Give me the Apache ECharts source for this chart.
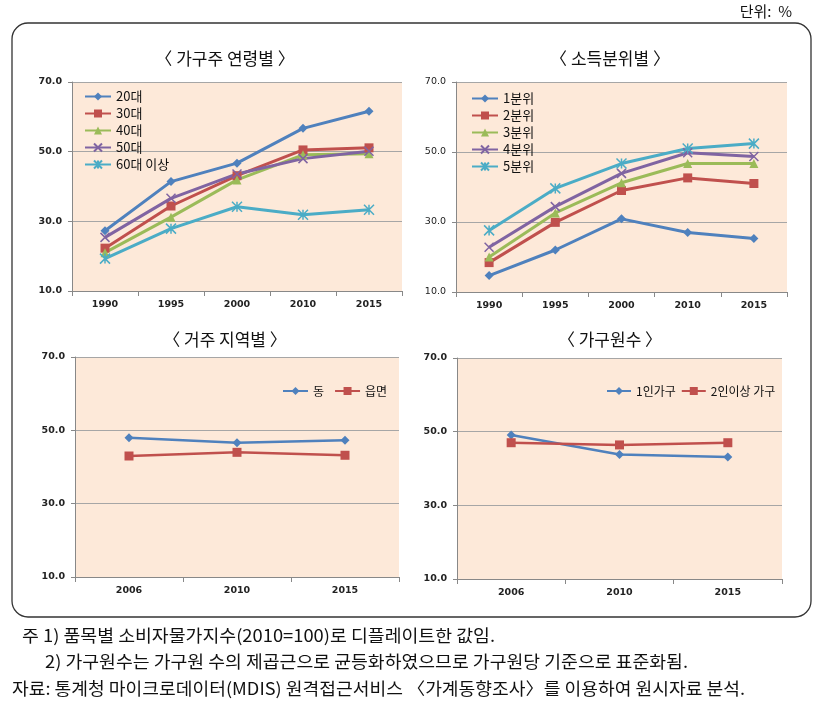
<!DOCTYPE html>
<html><head><meta charset="utf-8">
<script src="https://cdn.jsdelivr.net/npm/echarts@6/dist/echarts.min.js"></script>
<style>html,body{margin:0;padding:0;background:#fff}#c{width:821px;height:707px}</style>
</head><body><div id="c"></div>
<script>
// ---- data ----
const yearsA = ['1990', '1995', '2000', '2010', '2015'];
const yearsB = ['2006', '2010', '2015'];
const yTicks = [10, 30, 50, 70];

const age20 = [27.3, 41.4, 46.7, 56.7, 61.6];
const age30 = [22.3, 34.4, 43.1, 50.5, 51.1];
const age40 = [21.0, 31.2, 41.9, 49.1, 49.4];
const age50 = [25.4, 36.6, 43.6, 48.0, 50.1];
const age60 = [19.3, 27.9, 34.2, 31.9, 33.3];

const q1 = [14.7, 22.0, 30.9, 27.0, 25.3];
const q2 = [18.4, 29.9, 39.0, 42.6, 41.0];
const q3 = [20.0, 32.6, 41.2, 46.7, 46.7];
const q4 = [22.8, 34.4, 43.9, 49.8, 48.7];
const q5 = [27.6, 39.6, 46.7, 51.0, 52.4];

const dong = [48.0, 46.6, 47.3];
const eupmyeon = [43.0, 44.0, 43.2];

const single = [49.1, 43.8, 43.1];
const multi = [47.0, 46.4, 47.0];

const titles = ['〈 가구주 연령별 〉', '〈 소득분위별 〉', '〈 거주 지역별 〉', '〈 가구원수 〉'];
const notes = [
  '주 1) 품목별 소비자물가지수(2010=100)로 디플레이트한 값임.',
  '2) 가구원수는 가구원 수의 제곱근으로 균등화하였으므로 가구원당 기준으로 표준화됨.',
  '자료: 통계청 마이크로데이터(MDIS) 원격접근서비스 〈가계동향조사〉를 이용하여 원시자료 분석.'
];

// ---- styling ----
const C = ['#4F81BD', '#C0504D', '#9BBB59', '#8064A2', '#4BACC6'];
const X_PATH = 'path://M0,0L10,10M10,0L0,10';
const AST_PATH = 'path://M0,0L10,10M10,0L0,10M5,0L5,10';
const symbols = [
  {symbol: 'diamond', size: 9},
  {symbol: 'rect', size: 9},
  {symbol: 'triangle', size: 9},
  {symbol: X_PATH, size: 9},
  {symbol: AST_PATH, size: 10}
];
const KFONT = '"Noto Sans CJK KR", "Noto Sans", sans-serif';

const grids = [
  {left: 72, top: 82, width: 330, height: 209},
  {left: 456, top: 82, width: 331, height: 210},
  {left: 75, top: 357, width: 324, height: 220},
  {left: 457, top: 358, width: 325, height: 221}
];

function mkSeries(name, data, idx, gi, lw) {
  const s = symbols[idx];
  const isPath = s.symbol.indexOf('path://') === 0;
  return {
    name, type: 'line', data, xAxisIndex: gi, yAxisIndex: gi,
    symbol: s.symbol, symbolSize: s.size, showAllSymbol: true,
    lineStyle: {color: C[idx], width: lw},
    itemStyle: isPath ? {color: 'none', borderColor: C[idx], borderWidth: 1.5} : {color: C[idx]},
    emphasis: {disabled: true},
    animation: false, z: 3
  };
}

const series = [];
const ageNames = ['20대', '30대', '40대', '50대', '60대 이상'];
[age20, age30, age40, age50, age60].forEach((d, i) => series.push(mkSeries(ageNames[i], d, i, 0, 3)));
const qNames = ['1분위', '2분위', '3분위', '4분위', '5분위'];
[q1, q2, q3, q4, q5].forEach((d, i) => series.push(mkSeries(qNames[i], d, i, 1, 3)));
series.push(mkSeries('동', dong, 0, 2, 2.5));
series.push(mkSeries('읍면', eupmyeon, 1, 2, 2.5));
series.push(mkSeries('1인가구', single, 0, 3, 2.5));
series.push(mkSeries('2인이상 가구', multi, 1, 3, 2.5));

const xAxes = grids.map((g, i) => ({
  type: 'category', gridIndex: i, data: i < 2 ? yearsA : yearsB, boundaryGap: true,
  axisLine: {lineStyle: {color: '#888', width: 1}},
  axisTick: {show: true, length: 5, lineStyle: {color: '#888'}},
  axisLabel: {margin: 9, color: '#222', fontFamily: 'DejaVu Sans', fontWeight: 'bold', fontSize: 9.5}
}));
const yAxes = grids.map((g, i) => ({
  type: 'value', gridIndex: i, min: yTicks[0], max: yTicks[yTicks.length - 1], interval: yTicks[1] - yTicks[0],
  axisLine: {show: true, lineStyle: {color: '#888', width: 1}},
  axisTick: {show: true, length: 4, lineStyle: {color: '#888'}},
  splitLine: {show: true, lineStyle: {color: '#A6A6A6', width: 1}},
  axisLabel: {margin: 10, color: '#222', fontFamily: 'DejaVu Sans', fontWeight: i === 1 ? 'normal' : 'bold', fontSize: 9.5,
    formatter: v => v.toFixed(1)}
}));

const titleCenters = [[220, 45], [605, 45], [220, 326], [605, 326]];
const title = titles.map((t, i) => ({
  text: t, left: titleCenters[i][0], top: titleCenters[i][1], textAlign: 'center',
  textStyle: {fontFamily: KFONT, fontSize: 17, fontWeight: 'normal', color: '#111'}
}));

const legendText = {fontFamily: KFONT, fontSize: 13, color: '#111'};
const legendTextS = {fontFamily: KFONT, fontSize: 12, color: '#111'};
const legend = [
  {data: ageNames, orient: 'vertical', left: 79, top: 85, itemGap: 4, itemWidth: 26, itemHeight: 10, textStyle: legendText, selectedMode: false},
  {data: qNames, orient: 'vertical', left: 466, top: 87, itemGap: 4, itemWidth: 26, itemHeight: 10, textStyle: legendText, selectedMode: false},
  {data: ['동', '읍면'], orient: 'horizontal', left: 277, top: 380, itemGap: 10, itemWidth: 25, itemHeight: 10, textStyle: legendTextS, selectedMode: false},
  {data: ['1인가구', '2인이상 가구'], orient: 'horizontal', left: 601, top: 380, itemGap: 5, itemWidth: 24, itemHeight: 10, textStyle: legendTextS, selectedMode: false}
];

// footnote fitting (style only)
const cv = document.createElement('canvas').getContext('2d');
function fitText(text, x, y, targetW, size) {
  const font = size + 'px ' + KFONT;
  cv.font = font;
  const w = cv.measureText(text).width;
  return {type: 'text', x, y, scaleX: targetW / w, scaleY: 1,
    style: {text, font, fill: '#111', textVerticalAlign: 'middle'}, z: 10};
}

const graphic = [
  {type: 'rect', shape: {x: 12, y: 23, width: 799, height: 594, r: 16},
   style: {fill: 'none', stroke: '#333', lineWidth: 1.3}, z: 0},
  {type: 'text', x: 792, y: 11, style: {text: '단위:  %', font: '15px ' + KFONT, fill: '#111', textAlign: 'right', textVerticalAlign: 'middle'}},
  fitText(notes[0], 22, 636, 473, 17),
  fitText(notes[1], 45, 662, 643, 17),
  fitText(notes[2], 12, 689, 733, 17)
];

const chart = echarts.init(document.getElementById('c'), null, {renderer: 'canvas'});
chart.setOption({
  animation: false,
  backgroundColor: '#fff',
  title, legend,
  grid: grids.map(g => Object.assign({show: true, backgroundColor: '#FDE9D9', borderWidth: 0, containLabel: false}, g)),
  xAxis: xAxes, yAxis: yAxes, series, graphic
});
</script></body></html>
